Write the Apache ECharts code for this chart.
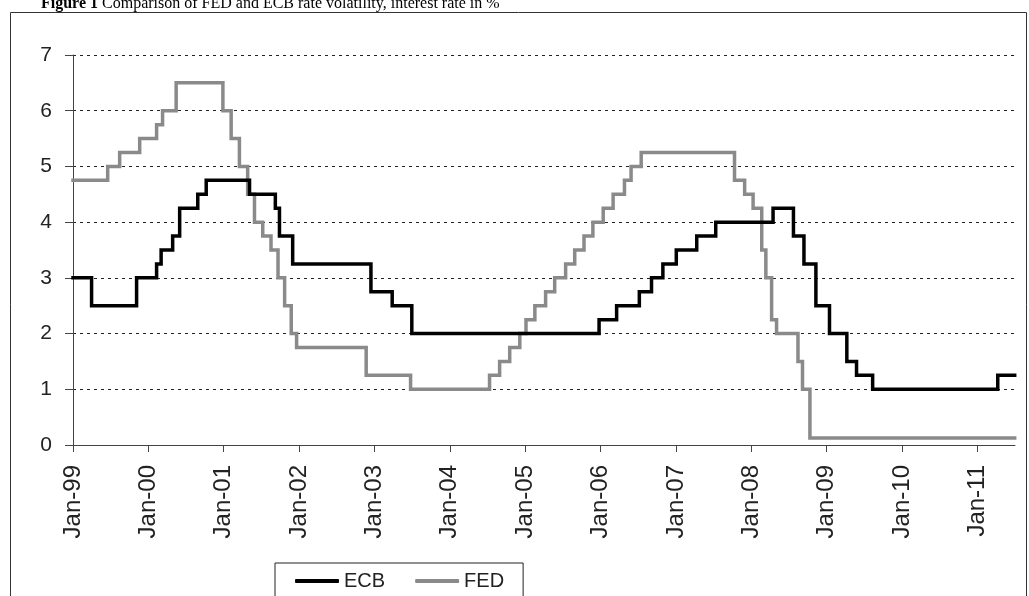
<!DOCTYPE html>
<html>
<head>
<meta charset="utf-8">
<script src="https://cdn.jsdelivr.net/npm/echarts@6/dist/echarts.min.js"></script>
<style>
  html, body { margin: 0; padding: 0; background: #fff; }
  #chart { width: 1029px; height: 596px; }
</style>
</head>
<body>
<div id="chart"></div>
<script>
// ---- data ----
const titleBold = 'Figure 1';
const titleRest = ' Comparison of FED and ECB rate volatility, interest rate in %';
const seriesNames = ['ECB', 'FED'];

const ecbDates = ['1999-01-01','1999-04-01','1999-11-05','2000-02-10','2000-03-03','2000-04-28','2000-06-01','2000-08-28','2000-10-08','2001-05-06','2001-09-08','2001-09-28','2001-12-01','2002-12-15','2003-03-28','2003-07-01','2005-12-25','2006-03-20','2006-07-08','2006-09-05','2006-10-30','2007-01-03','2007-04-12','2007-07-13','2008-04-16','2008-07-24','2008-09-13','2008-11-10','2009-01-15','2009-04-09','2009-05-26','2009-08-12','2011-04-10','2011-07-01'];
const ecbRates = [3.00,2.50,3.00,3.25,3.50,3.75,4.25,4.50,4.75,4.50,4.25,3.75,3.25,2.75,2.50,2.00,2.25,2.50,2.75,3.00,3.25,3.50,3.75,4.00,4.25,3.75,3.25,2.50,2.00,1.50,1.25,1.00,1.25,1.25];

const fedDates = ['1999-01-01','1999-06-18','1999-08-15','1999-11-20','2000-02-10','2000-03-10','2000-05-15','2000-12-28','2001-02-06','2001-03-18','2001-04-27','2001-05-30','2001-07-09','2001-08-18','2001-09-21','2001-10-23','2001-11-24','2001-12-20','2002-11-22','2003-06-25','2004-07-12','2004-08-30','2004-10-18','2004-12-06','2005-01-05','2005-02-17','2005-04-10','2005-05-24','2005-07-16','2005-08-29','2005-10-13','2005-11-25','2006-01-14','2006-03-03','2006-04-27','2006-05-29','2006-07-17','2007-10-12','2007-11-30','2008-01-10','2008-02-21','2008-03-12','2008-04-09','2008-05-03','2008-08-15','2008-09-06','2008-10-12','2011-07-01'];
const fedRates = [4.75,5.00,5.25,5.50,5.75,6.00,6.50,6.00,5.50,5.00,4.50,4.00,3.75,3.50,3.00,2.50,2.00,1.75,1.25,1.00,1.25,1.50,1.75,2.00,2.25,2.50,2.75,3.00,3.25,3.50,3.75,4.00,4.25,4.50,4.75,5.00,5.25,4.75,4.50,4.25,3.50,3.00,2.25,2.00,1.50,1.00,0.125,0.125];

const xTickYears = [1999,2000,2001,2002,2003,2004,2005,2006,2007,2008,2009,2010,2011];
const xTickLabels = ['Jan-99','Jan-00','Jan-01','Jan-02','Jan-03','Jan-04','Jan-05','Jan-06','Jan-07','Jan-08','Jan-09','Jan-10','Jan-11'];
const yTicks = [0,1,2,3,4,5,6,7];

// ---- helpers ----
function toYear(s) {
  const p = s.split('-').map(Number);
  const t = Date.UTC(p[0], p[1]-1, p[2]);
  const a = Date.UTC(p[0], 0, 1), b = Date.UTC(p[0]+1, 0, 1);
  return p[0] + (t - a) / (b - a);
}
function pairs(dates, vals) { return dates.map((d, i) => [toYear(d), vals[i]]); }

const chart = echarts.init(document.getElementById('chart'), null, { renderer: 'canvas' });
const sans = 'Liberation Sans, Arial, sans-serif';
const serif = 'Liberation Serif, Times New Roman, serif';

chart.setOption({
  animation: false,
  backgroundColor: '#fff',
  title: {
    text: '{b|' + titleBold + '}{r|' + titleRest + '}',
    left: 41, top: -4, padding: 0,
    textStyle: {
      fontWeight: 'normal',
      rich: {
        b: { fontFamily: serif, fontWeight: 'bold', fontSize: 16, color: '#000' },
        r: { fontFamily: serif, fontWeight: 'normal', fontSize: 16, color: '#000' }
      }
    }
  },
  graphic: [{
    type: 'rect', silent: true, z: -1,
    shape: { x: 10.5, y: 12.5, width: 1016, height: 600 },
    style: { fill: 'none', stroke: '#333', lineWidth: 1 }
  }],
  legend: {
    data: seriesNames,
    left: 275, top: 563,
    padding: [8, 19, 14, 20],
    itemGap: 30,
    itemWidth: 44, itemHeight: 4,
    icon: 'roundRect',
    borderColor: '#222', borderWidth: 1,
    backgroundColor: '#fff',
    textStyle: { fontFamily: sans, fontSize: 20, color: '#222' }
  },
  grid: { left: 73, right: 14, top: 55, bottom: 151 },
  xAxis: {
    type: 'value',
    min: xTickYears[0], max: 2011.5, interval: 1,
    axisLine: { show: true, lineStyle: { color: '#444', width: 1 } },
    axisTick: { show: true, length: 7, lineStyle: { color: '#444' } },
    splitLine: { show: false },
    axisLabel: {
      rotate: 90, margin: 20, fontFamily: sans, fontSize: 24, color: '#222',
      showMaxLabel: false,
      formatter: function (v) {
        const i = xTickYears.indexOf(Math.round(v));
        return (Math.abs(v - Math.round(v)) < 1e-6 && i >= 0) ? xTickLabels[i] : '';
      }
    }
  },
  yAxis: {
    type: 'value',
    min: yTicks[0], max: yTicks[yTicks.length-1], interval: 1,
    axisLine: { show: true, lineStyle: { color: '#444', width: 1 } },
    axisTick: { show: true, length: 8, lineStyle: { color: '#444' } },
    splitLine: { show: true, lineStyle: { color: '#222', type: [3, 4], width: 1 } },
    axisLabel: { margin: 21, fontFamily: sans, fontSize: 21, color: '#222' }
  },
  series: [
    {
      name: seriesNames[0], type: 'line', step: 'end',
      data: pairs(ecbDates, ecbRates),
      symbol: 'none', z: 3,
      lineStyle: { color: '#000', width: 3.5, join: 'miter', cap: 'square' },
      itemStyle: { color: '#000' }
    },
    {
      name: seriesNames[1], type: 'line', step: 'end',
      data: pairs(fedDates, fedRates),
      symbol: 'none', z: 2,
      lineStyle: { color: '#8a8a8a', width: 3.5, join: 'miter', cap: 'square' },
      itemStyle: { color: '#8a8a8a' }
    }
  ]
});
</script>
</body>
</html>
